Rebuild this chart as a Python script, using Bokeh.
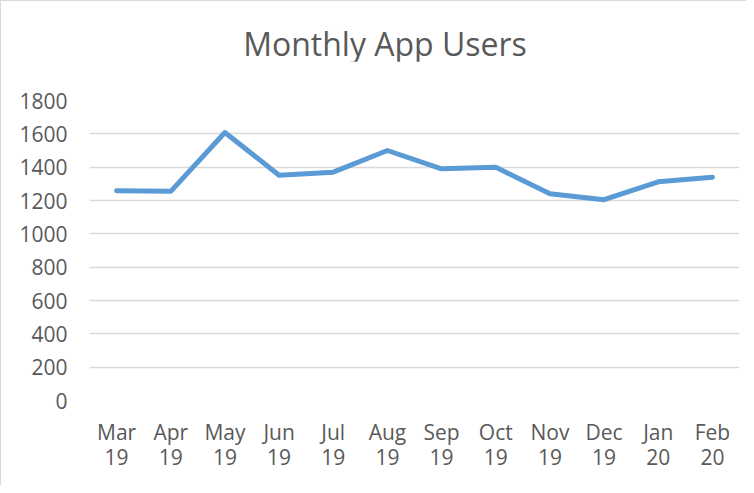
from bokeh.plotting import figure
from bokeh.models import FixedTicker, Range1d, Div
from bokeh.layouts import column
from bokeh.embed import file_html
from bokeh.resources import INLINE

months = ["Mar\n19", "Apr\n19", "May\n19", "Jun\n19", "Jul\n19", "Aug\n19",
          "Sep\n19", "Oct\n19", "Nov\n19", "Dec\n19", "Jan\n20", "Feb\n20"]
users = [1258, 1255, 1608, 1352, 1370, 1500, 1390, 1400, 1240, 1205, 1312, 1340]
y_ticks = [0, 200, 400, 600, 800, 1000, 1200, 1400, 1600, 1800]
title_text = "Monthly App Users"

FONT = "Open Sans"
TXT = "#595959"
W = 745
TITLE_H = 60

title = Div(
    text=("<div style=\"width:%dpx;box-sizing:border-box;padding-left:23px;padding-top:27px;"
          "text-align:center;font-family:'Open Sans';font-size:32px;line-height:32px;"
          "color:%s;white-space:nowrap\">%s</div>") % (W, TXT, title_text),
    width=W, height=TITLE_H, margin=0)

p = figure(x_range=months, y_range=Range1d(0, 1800), width=W, height=484 - TITLE_H,
           output_backend="svg", toolbar_location=None, margin=0,
           min_border_left=88, min_border_right=7, min_border_top=99 - TITLE_H,
           min_border_bottom=85)

p.line(x=months, y=users, line_color="#5b9bd5", line_width=5, line_join="round", line_cap="round")

p.outline_line_color = None
p.xgrid.grid_line_color = None
p.ygrid.grid_line_color = "#d9d9d9"
p.ygrid.grid_line_width = 1.5
p.yaxis.ticker = FixedTicker(ticks=y_ticks)

for ax in (p.xaxis, p.yaxis):
    ax.axis_line_color = None
    ax.major_tick_line_color = None
    ax.minor_tick_line_color = None
    ax.major_label_text_font = FONT
    ax.major_label_text_font_size = "21px"
    ax.major_label_text_color = TXT
p.xaxis.major_label_text_line_height = 0.9
p.yaxis.major_label_standoff = 16
p.xaxis.major_label_standoff = 11
p.x_range.range_padding = 0

layout = column(title, p, spacing=0,
                styles={"border-left": "1px solid #d9d9d9", "border-top": "1px solid #d9d9d9"})

open("out.html", "w").write(file_html(layout, INLINE))
